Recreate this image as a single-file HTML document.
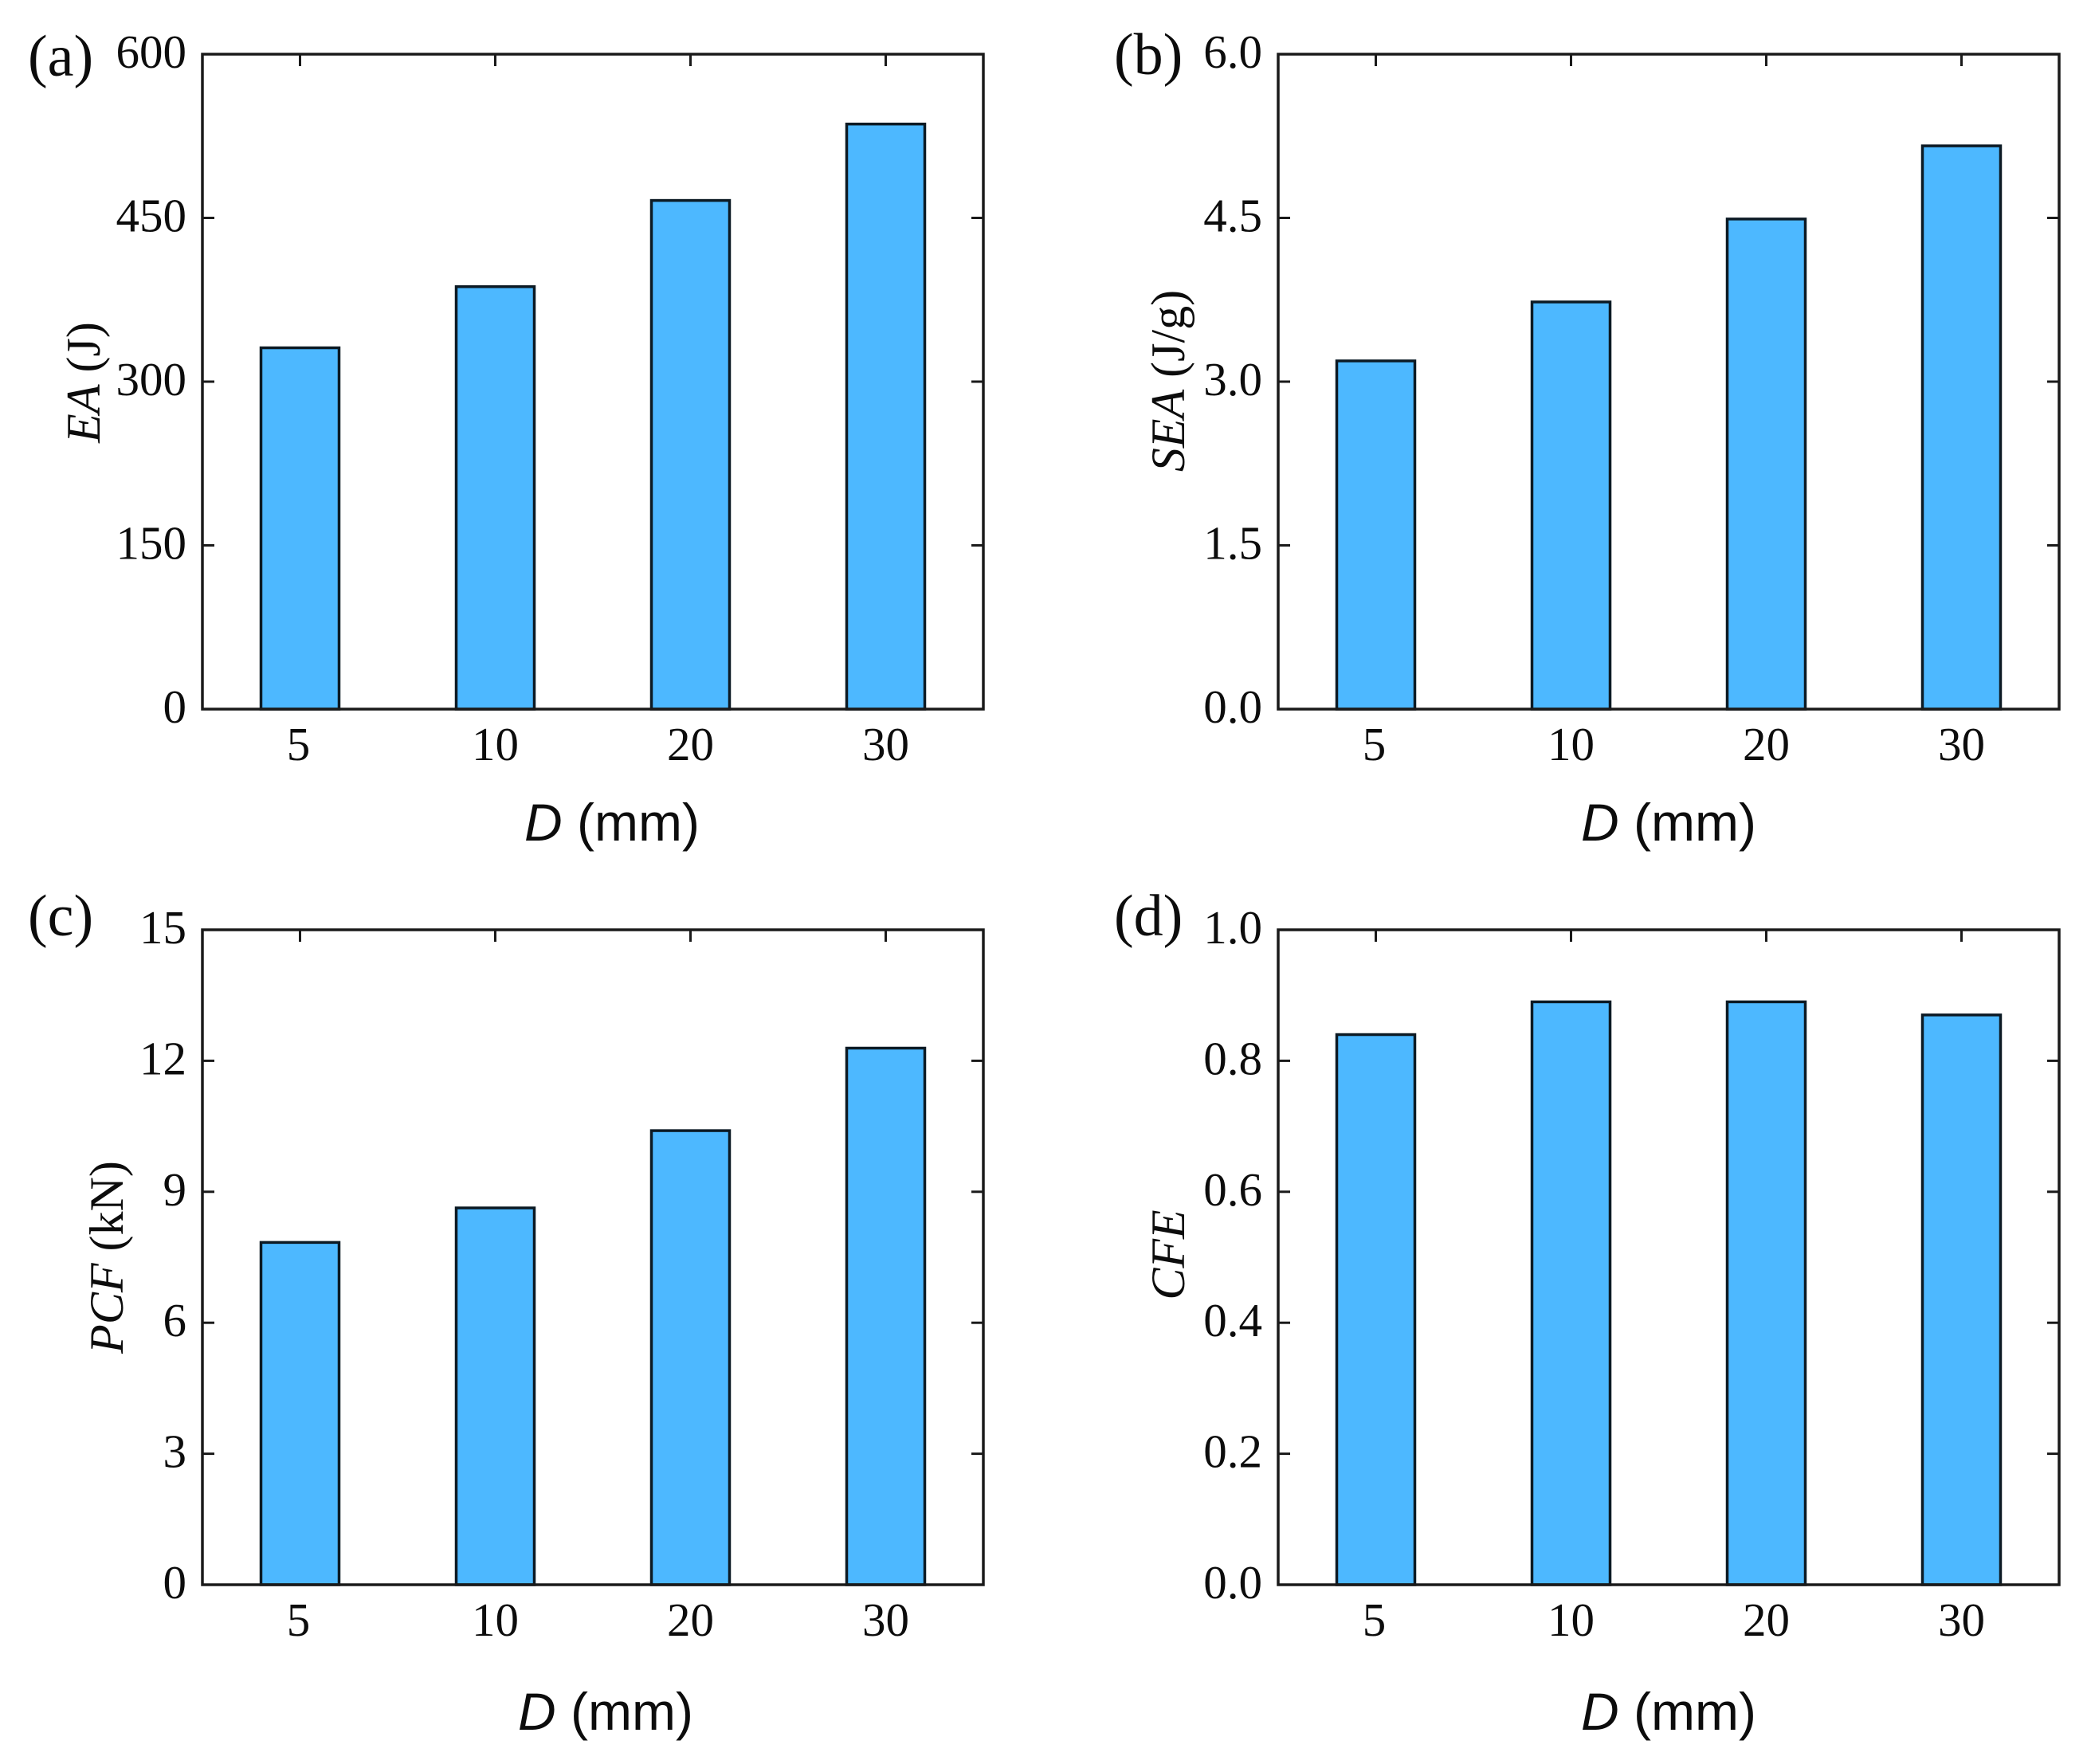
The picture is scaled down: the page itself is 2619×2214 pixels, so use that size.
<!DOCTYPE html>
<html>
<head>
<meta charset="utf-8">
<title>Bar charts of EA, SEA, PCF and CFE against D</title>
<style>
  html, body { margin: 0; padding: 0; background: #ffffff; }
  svg { display: block; }
  text { fill: #0c0c0c; }
  .serif { font-family: "Liberation Serif", serif; }
  .sans { font-family: "Liberation Sans", sans-serif; }
</style>
</head>
<body>
<svg id="figure" xmlns="http://www.w3.org/2000/svg" width="2619" height="2214" viewBox="0 0 2619 2214"></svg>
<script>
const categories = ['5', '10', '20', '30'];
const eaValues = [331, 387, 466, 536];
const seaValues = [3.19, 3.73, 4.49, 5.16];
const pcfValues = [7.84, 8.63, 10.4, 12.29];
const cfeValues = [0.84, 0.89, 0.89, 0.87];
const eaTicks = ['0', '150', '300', '450', '600'];
const seaTicks = ['0.0', '1.5', '3.0', '4.5', '6.0'];
const pcfTicks = ['0', '3', '6', '9', '12', '15'];
const cfeTicks = ['0.0', '0.2', '0.4', '0.6', '0.8', '1.0'];

const NS = 'http://www.w3.org/2000/svg';
const svg = document.getElementById('figure');
const PLOT_W = 980, PLOT_H = 822, BAND_OFFSET = 122.5, BAND_STEP = 245, BAR_W = 98, TICK_LEN = 15;

function make(parent, tag, attrs, text) {
  const el = document.createElementNS(NS, tag);
  for (const k in attrs) el.setAttribute(k, attrs[k]);
  if (text !== undefined) el.textContent = text;
  parent.appendChild(el);
  return el;
}

function drawPanel(cfg) {
  const yMax = Number(cfg.ticks[cfg.ticks.length - 1]);
  const xScale = i => cfg.left + BAND_OFFSET + BAND_STEP * i;
  const yScale = v => cfg.top + PLOT_H - (v / yMax) * PLOT_H;
  const bottom = cfg.top + PLOT_H;
  const right = cfg.left + PLOT_W;

  const g = make(svg, 'g', {});
  
  

  cfg.values.forEach((v, i) => {
    const bar = make(g, 'rect', {
      x: xScale(i) - BAR_W / 2, y: yScale(v),
      width: BAR_W, height: bottom - yScale(v),
      fill: '#4db8ff', stroke: '#0c1a24', 'stroke-width': 3.5
    });
    
    
  });

  const frame = make(g, 'rect', {
    x: cfg.left, y: cfg.top, width: PLOT_W, height: PLOT_H,
    fill: 'none', stroke: '#1a1a1a', 'stroke-width': 3.5
  });
  
  

  cfg.ticks.forEach(label => {
    const y = yScale(Number(label));
    if (Number(label) !== 0 && Number(label) !== yMax) {
      const tl = make(g, 'line', { x1: cfg.left, x2: cfg.left + TICK_LEN, y1: y, y2: y, stroke: '#1a1a1a', 'stroke-width': 3 });
      
      
      const tr = make(g, 'line', { x1: right, x2: right - TICK_LEN, y1: y, y2: y, stroke: '#1a1a1a', 'stroke-width': 3 });
      
      
    }
    const t = make(g, 'text', { x: cfg.left - 20, y: y + 17, 'text-anchor': 'end', 'font-size': 59, class: 'serif' }, label);
    
    
  });

  categories.forEach((c, i) => {
    const x = xScale(i);
    const tt = make(g, 'line', { x1: x, x2: x, y1: cfg.top, y2: cfg.top + TICK_LEN, stroke: '#1a1a1a', 'stroke-width': 3 });
    
    
    const t = make(g, 'text', { x: i === 0 ? x - 2 : x, y: bottom + 64, 'text-anchor': 'middle', 'font-size': 59, class: 'serif' }, c);
    
    
  });

  const panelLabel = make(g, 'text', { x: cfg.labelX, y: cfg.labelY, 'font-size': 74, class: 'serif' }, cfg.panelLabel);
  
  

  const yTitle = make(g, 'text', {
    x: 0, y: 0, 'text-anchor': 'middle', 'font-size': 60, class: 'serif',
    transform: 'translate(' + cfg.yTitleX + ' ' + cfg.yTitleY + ') rotate(-90)'
  });
  
  
  make(yTitle, 'tspan', { 'font-style': 'italic' }, cfg.yName);
  if (cfg.yUnit) make(yTitle, 'tspan', {}, ' ' + cfg.yUnit);

  const xTitle = make(g, 'text', { x: cfg.xTitleX, y: cfg.xTitleY, 'font-size': 66, class: 'sans' });
  
  
  make(xTitle, 'tspan', { 'font-style': 'italic' }, 'D');
  make(xTitle, 'tspan', {}, ' (mm)');
}

drawPanel({ id: 'ea', left: 254, top: 68, values: eaValues, ticks: eaTicks, panelLabel: '(a)', labelX: 35, labelY: 95,
  yName: 'EA', yUnit: '(J)', yTitleX: 125, yTitleY: 480, xTitleX: 658, xTitleY: 1055 });
drawPanel({ id: 'sea', left: 1604, top: 68, values: seaValues, ticks: seaTicks, panelLabel: '(b)', labelX: 1398, labelY: 93,
  yName: 'SEA', yUnit: '(J/g)', yTitleX: 1486, yTitleY: 478, xTitleX: 1984, xTitleY: 1055 });
drawPanel({ id: 'pcf', left: 254, top: 1167, values: pcfValues, ticks: pcfTicks, panelLabel: '(c)', labelX: 35, labelY: 1174,
  yName: 'PCF', yUnit: '(kN)', yTitleX: 154, yTitleY: 1578, xTitleX: 650, xTitleY: 2171 });
drawPanel({ id: 'cfe', left: 1604, top: 1167, values: cfeValues, ticks: cfeTicks, panelLabel: '(d)', labelX: 1398, labelY: 1174,
  yName: 'CFE', yUnit: '', yTitleX: 1486, yTitleY: 1575, xTitleX: 1984, xTitleY: 2171 });
</script>
</body>
</html>
